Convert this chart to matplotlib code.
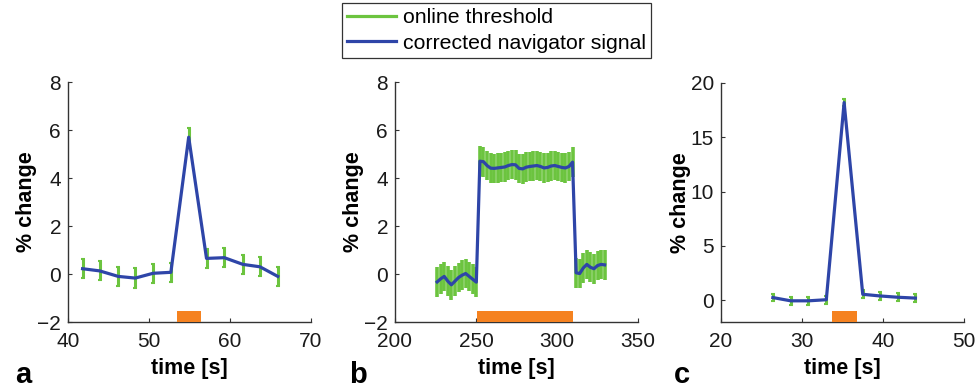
import matplotlib

matplotlib.use("Agg")
import matplotlib.pyplot as plt
import numpy as np
from matplotlib.lines import Line2D

plt.rcParams["font.family"] = ["Liberation Sans", "DejaVu Sans"]

# panel a: short stimulus
t_a = [41.8, 43.9, 46.2, 48.3, 50.5, 52.7, 54.9, 57.1, 59.3, 61.6, 63.7, 65.9]
sig_a = [0.22, 0.13, -0.1, -0.17, 0.03, 0.07, 5.7, 0.65, 0.68, 0.4, 0.3, -0.1]
thr_a = 0.4
stim_a = (53.4, 56.4)

# panel b: long block
t_b = list(np.round(226.0 + 2.2 * np.arange(48), 1))
sig_b = [
    -0.33, -0.2, -0.1, -0.3, -0.45, -0.3, -0.15, -0.05, 0.02, -0.1, -0.22, -0.34,
    4.70, 4.68, 4.52, 4.41, 4.40, 4.42, 4.44, 4.46, 4.52, 4.56, 4.55, 4.40, 4.38,
    4.45, 4.48, 4.50, 4.52, 4.48, 4.42, 4.44, 4.50, 4.52, 4.48, 4.44, 4.42, 4.48, 4.66,
    0.05, 0.02, 0.25, 0.40, 0.28, 0.22, 0.35, 0.40, 0.38,
]
thr_b = 0.62
stim_b = (250.4, 309.9)

# panel c: strong short response
t_c = [26.4, 28.6, 30.8, 33.0, 35.2, 37.5, 39.6, 41.8, 44.0]
sig_c = [0.25, -0.05, -0.05, 0.05, 18.2, 0.55, 0.4, 0.28, 0.2]
thr_c = 0.35
stim_c = (33.7, 36.8)

GREEN = "#6cc43f"
BLUE = "#2e45a8"
ORANGE = "#f58220"
SPINE = "#333333"
FS = 15

panels = [
    ("a", t_a, sig_a, thr_a, stim_a, (40, 70), [40, 50, 60, 70], (-2, 8), [-2, 0, 2, 4, 6, 8], 2.2),
    ("b", t_b, sig_b, thr_b, stim_b, (200, 350), [200, 250, 300, 350], (-2, 8), [-2, 0, 2, 4, 6, 8], 2.6),
    ("c", t_c, sig_c, thr_c, stim_c, (20, 50), [20, 30, 40, 50], (-2, 20), [0, 5, 10, 15, 20], 2.2),
]
lefts = [68, 395, 721]

fig = plt.figure(figsize=(9.77, 3.88), dpi=100)
W, H = 977, 388
for (letter, t, s, thr, stim, xl, xt, yl, yt, elw), left in zip(panels, lefts):
    top = 82 if letter != "c" else 83
    ax = fig.add_axes([left / W, 1 - 322 / H, 243 / W, (322 - top) / H])
    ax.errorbar(t, s, yerr=thr, fmt="none", ecolor=GREEN, elinewidth=elw,
                capsize=1.5 if letter != "b" else 0, capthick=1.5, zorder=2)
    ax.plot(t, s, color=BLUE, lw=2.3, zorder=3)
    ax.axvspan(stim[0], stim[1], ymin=0, ymax=0.046, color=ORANGE, lw=0, zorder=4)
    ax.set_xlim(*xl)
    ax.set_ylim(*yl)
    ax.set_xticks(xt)
    ax.set_yticks(yt)
    ax.set_yticklabels([str(v).replace("-", "\u2212") for v in yt])
    for side in ("top", "right"):
        ax.spines[side].set_visible(False)
    for side in ("left", "bottom"):
        ax.spines[side].set_color(SPINE)
        ax.spines[side].set_linewidth(1.0)
    ax.tick_params(direction="in", length=3, width=0.8, colors=SPINE, labelcolor="#1a1a1a", labelsize=FS)
    ax.tick_params(axis="x", pad=7)
    ax.tick_params(axis="y", pad=5)
    ax.set_xlabel("time [s]", fontsize=15.5, fontweight="bold", labelpad=5)
    ax.set_ylabel("% change", fontsize=15.5, fontweight="bold", labelpad=0)
    ax.patch.set_alpha(0)

fig.text(15 / W, 1 - 383 / H, "a", fontsize=21, fontweight="bold", va="baseline")
fig.text(349 / W, 1 - 383 / H, "b", fontsize=21, fontweight="bold", va="baseline")
fig.text(674 / W, 1 - 383 / H, "c", fontsize=21, fontweight="bold", va="baseline")

handles = [
    Line2D([], [], color=GREEN, lw=2.3),
    Line2D([], [], color=BLUE, lw=2.3),
]
leg = fig.legend(
    handles,
    ["online threshold", "corrected navigator signal"],
    loc="upper left",
    bbox_to_anchor=(342 / W, 1 - 3 / H),
    fontsize=15.3,
    frameon=True,
    fancybox=False,
    borderpad=0.25,
    handlelength=2.3,
    handletextpad=0.3,
    labelspacing=0.3,
    borderaxespad=0,
)
leg.get_frame().set_edgecolor("black")
leg.get_frame().set_linewidth(0.9)

fig.savefig("out.png", dpi=100)
